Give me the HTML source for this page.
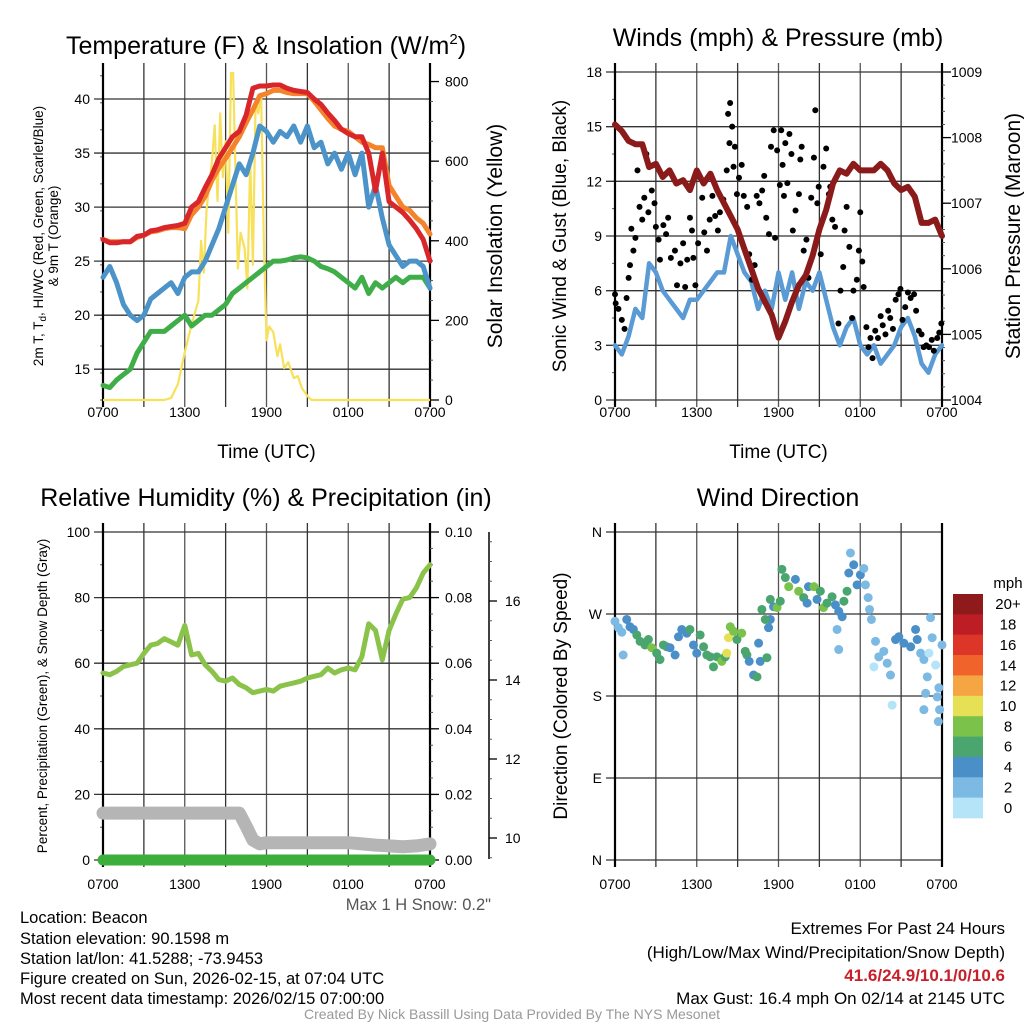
<!DOCTYPE html>
<html><head><meta charset="utf-8"><style>
body{margin:0;background:#fff}
svg{display:block;font-family:"Liberation Sans",Arial,sans-serif}
</style></head><body>
<svg id="s" width="1024" height="1024" viewBox="0 0 1024 1024" xmlns="http://www.w3.org/2000/svg">
<defs><clipPath id="c1"><rect x="103" y="72" width="327" height="330"/></clipPath></defs>
<rect width="1024" height="1024" fill="#fff"/>
<text x="266" y="54" font-size="25" text-anchor="middle">Temperature (F) &amp; Insolation (W/m<tspan dy="-10" font-size="15">2</tspan><tspan dy="10">)</tspan></text>
<text x="778" y="46" font-size="25" text-anchor="middle">Winds (mph) &amp; Pressure (mb)</text>
<text x="266" y="506" font-size="25" text-anchor="middle">Relative Humidity (%) &amp; Precipitation (in)</text>
<text x="778" y="506" font-size="25" text-anchor="middle">Wind Direction</text>
<g id="g"></g>
<text x="491" y="910" font-size="16.5" fill="#555" text-anchor="end">Max 1 H Snow: 0.2"</text>
<g font-size="16.5">
<text x="20" y="923">Location: Beacon</text>
<text x="20" y="944">Station elevation: 90.1598 m</text>
<text x="20" y="964">Station lat/lon: 41.5288; -73.9453</text>
<text x="20" y="984">Figure created on Sun, 2026-02-15, at 07:04 UTC</text>
<text x="20" y="1004">Most recent data timestamp: 2026/02/15 07:00:00</text>
</g>
<g font-size="17" text-anchor="end">
<text x="1005" y="934">Extremes For Past 24 Hours</text>
<text x="1005" y="958">(High/Low/Max Wind/Precipitation/Snow Depth)</text>
<text x="1005" y="981" fill="#c8202a" font-weight="bold">41.6/24.9/10.1/0/10.6</text>
<text x="1005" y="1004">Max Gust: 16.4 mph On 02/14 at 2145 UTC</text>
</g>
<text x="512" y="1019" font-size="14" fill="#999" text-anchor="middle">Created By Nick Bassill Using Data Provided By The NYS Mesonet</text>
</svg>
<script>
const hrs=[0,0.5,1,1.5,2,2.5,3,3.5,4,4.5,5,5.5,6,6.5,7,7.5,8,8.5,9,9.5,10,10.5,11,11.5,12,12.5,13,13.5,14,14.5,15,15.5,16,16.5,17,17.5,18,18.5,19,19.5,20,20.5,21,21.5,22,22.5,23,23.5,24];
const tempRed=[27,26.7,26.7,26.8,26.8,27.3,27.4,27.8,27.9,28.1,28.2,28.3,28.5,30,30.5,31.8,33,34.5,35.5,36.5,37,38.5,41,41.2,41.2,41.3,41.3,41,40.8,40.7,40.6,40,39.5,38.7,38,37.2,36.8,36.5,36.5,35,31.5,35,30.5,30,29.5,28.8,28,27,25];
const tempOrange=[27,26.8,26.8,26.8,26.8,27.2,27.4,27.7,27.8,28,28.1,28.1,28,29.3,30,31,32.5,33.6,34.5,35.5,36.5,37.8,39,40.3,40.5,40.8,40.8,40.6,40.5,40.5,40.5,39.8,39,38.2,37.5,37.2,37,36.5,36,35.8,35.5,35.5,32,31,30,29.7,29,28.5,27.5];
const tempBlue=[23.5,24.5,23,21,20,19.5,20,21.5,22,22.5,23,22,23.5,24,24,25,26.5,28,30,32,34,33,35,37.5,37,36,37,36.5,37.5,36,37.5,35.5,36,34,35,33.5,35,33,35,30,32,29,26.5,25.5,24.5,25,25,24.5,22.5];
const tempGreen=[13.5,13.3,14,14.5,15,16.5,17.5,18.5,18.5,18.5,19,19.5,20,19,19.5,20,20,20.5,21,22,22.5,23,23.5,24,24.5,25,25,25.1,25.3,25.4,25.3,25,24.5,24.3,24,23.5,23,22.5,23.5,22,23,22.5,23,23.5,23,23.5,23.5,23.5,22.5];
const solarHrs=[0,4.5,5,5.5,6,6.5,7,7.2,7.4,7.6,8,8.2,8.4,8.6,8.8,9,9.2,9.4,9.5,9.7,9.9,10.1,10.4,10.6,10.8,11,11.2,11.4,11.6,11.8,12,12.2,12.5,12.8,13,13.3,13.6,14,14.3,14.6,15,15.3,15.6,24];
const solarVals=[0,0,5,40,120,190,250,400,320,480,600,690,500,720,560,650,420,830,900,600,330,420,380,280,600,340,750,720,770,400,150,185,170,110,140,80,95,55,60,30,10,0,0,0];
const presVals=[1008.2,1008.1,1007.95,1007.9,1007.9,1007.55,1007.6,1007.4,1007.5,1007.3,1007.35,1007.2,1007.5,1007.3,1007.45,1007.2,1007.0,1006.8,1006.6,1006.3,1006.0,1005.7,1005.5,1005.3,1004.95,1005.2,1005.5,1005.75,1005.9,1006.2,1006.6,1006.9,1007.3,1007.5,1007.45,1007.6,1007.5,1007.5,1007.5,1007.6,1007.5,1007.3,1007.2,1007.25,1007.1,1006.7,1006.7,1006.75,1006.5];
const windVals=[3,2.5,3.5,5,4.5,7.5,7,6,5.5,5,4.5,5.5,5.5,6,6.5,7,7,9,8,7,6.5,5,6,5,7,5.5,7,5,6.5,6,7,5.5,4,3,4,4.5,3,2.5,3,2,2.5,3,4,4.5,3.5,2,1.5,2.5,3];
const gustHrs=[0,0.05,0.25,0.5,0.7,0.85,1.0,1.1,1.2,1.35,1.5,1.65,1.8,2.0,2.15,2.3,2.45,2.7,2.9,3.0,3.2,3.3,3.55,3.75,3.9,4.1,4.4,4.55,4.8,5.0,5.15,5.3,5.5,5.65,5.75,5.9,6.1,6.25,6.4,6.55,6.75,6.95,7.15,7.35,7.55,7.7,7.95,8.2,8.3,8.45,8.4,8.6,8.7,8.8,8.95,9.1,9.3,9.45,9.7,9.85,10.05,10.25,10.4,10.6,10.8,10.95,11.1,11.3,11.45,11.65,11.75,11.9,12.1,12.2,12.3,12.4,12.5,12.65,12.8,12.95,13.05,13.25,13.5,13.6,13.7,13.85,14.05,14.2,14.4,14.6,14.7,14.85,14.95,15.1,15.3,15.5,15.7,15.8,15.95,16.15,16.4,16.55,16.75,16.85,17.0,17.2,17.4,17.5,17.75,17.9,18.0,18.15,18.25,18.45,18.6,18.75,18.9,19.1,19.3,19.5,19.65,19.85,20.05,20.2,20.4,20.6,20.8,20.95,21.1,21.3,21.5,21.7,21.95,22.1,22.3,22.5,22.65,22.85,23.05,23.25,23.4,23.65,23.8,23.95];
const gustVals=[5.8,5.3,5,4.4,3.9,5.6,6.7,7.4,9.4,8.2,8.9,12.6,10.6,9.9,11.1,13.5,10.3,11.5,10.8,9.5,8.8,7.7,9.6,9.1,10.0,7.8,8.2,6.3,7.5,8.6,6.2,7.7,10.0,9.3,7.8,6.3,8.6,12.2,11.1,9.2,8.2,9.9,11.2,10.1,9.3,10.3,11.0,12.6,15.7,16.3,14.1,15.0,12.8,13.9,11.3,12.2,12.9,11.2,10.6,8.0,6.6,7.4,11.2,10.8,11.5,12.3,10.0,9.1,13.9,14.8,8.9,13.7,11.8,14.8,12.9,11.2,14.1,11.9,14.6,13.5,9.3,10.4,11.3,13.2,13.9,8.2,8.8,6.7,11.1,13.3,15.9,10.8,11.7,8.0,12.8,13.8,11.3,11.7,9.9,9.5,4.2,6.0,7.3,9.3,10.6,8.4,4.5,6.0,6.6,8.2,10.3,7.6,6.2,4.0,2.9,3.4,2.3,3.8,3.4,4.6,4.1,3.6,4.9,4.5,3.9,5.5,5.8,6.1,4.4,5.1,5.9,5.6,5.8,4.9,3.8,3.6,2.9,3.0,2.9,3.3,2.7,3.4,3.7,4.2];
const rhVals=[57,56.5,57.5,59,59.5,60,63,65.5,66,67.5,66.5,65.5,71.5,62.5,63,59.5,57.5,55,54.5,55.5,53.5,52.5,51,51.5,52,51.5,53,53.5,54,54.5,55.5,56,56.5,58.5,57,58,58.5,58,62,72,70,61,70,75,79.5,80,83,87.5,90];
const snowHrs=[0,10,10.5,11,11.5,12,18,19,20,21,22,23,24];
const snowVals=[10.63,10.63,10.3,9.95,9.85,9.88,9.88,9.85,9.82,9.8,9.78,9.8,9.85];
const precipVals=[0,0];
const precipHrs=[0,24];
const dirHrs=[0,0.25,0.5,0.6,0.86,1.1,1.35,1.6,1.84,2.2,2.45,2.7,3.06,3.3,3.55,3.8,4.04,4.41,4.66,4.9,5.27,5.5,5.76,6.0,6.25,6.5,6.74,6.99,7.23,7.48,7.84,8.09,8.2,8.33,8.46,8.7,8.95,9.3,9.56,9.68,9.85,10.17,10.42,10.54,10.66,11.15,11.27,11.4,10.78,11.03,11.4,11.64,11.89,12.13,12.25,12.5,12.75,13.24,13.48,13.85,14.1,14.2,14.6,14.83,15.07,15.3,15.56,15.93,16.18,16.42,16.67,16.3,16.42,16.8,17.03,17.16,17.28,17.52,17.77,18.01,18.26,18.38,18.58,18.68,18.82,19.12,19.0,19.36,19.73,19.98,20.22,20.34,20.59,20.83,21.2,21.7,22.06,22.18,22.43,22.67,23.04,23.16,23.28,23.53,22.92,22.8,22.67,23.77,23.65,23.82,23.73,24];
const dirVals=[262,255,250,225,264,256,253,247,240,236,242,233,227,220,236,234,233,225,245,253,249,253,236,227,247,234,225,223,212,223,218,223,227,244,256,251,242,249,229,225,218,203,201,238,218,222,255,264,275,264,286,278,277,284,319,310,300,308,295,288,282,300,300,286,295,277,282,289,280,273,267,253,231,284,295,315,337,324,302,313,320,302,288,275,264,240,212,223,229,216,203,170,242,245,238,234,253,242,227,220,227,266,244,214,201,183,165,189,179,165,152,236];
const dirSpeeds=[3,3,3,3,4.5,4.5,4.5,6,6,7,6,8,6,6,6,6,5,4.5,4.5,4.5,4.5,6,4.5,4.5,6,6,6,7,6,7,8,7,10,10,8,8,6,8,6,7,4.5,4.5,6,4.5,4.5,6,4.5,4.5,6,6,6,4.5,8,6,6,6,8,4.5,8,6,4.5,4.5,8,4.5,6,8,6,6,4.5,4.5,4.5,3,3,6,6,4.5,3,4.5,4.5,4.5,3,3,3,3,3,3,1.5,3,3,3,3,1.5,4.5,4.5,4.5,4.5,4.5,4.5,3,3,1.5,3,3,1.5,3,3,3,3,3,3,3,3];
const legendLabels=["20+","18","16","14","12","10","8","6","4","2","0"];
const legendColors=["#8e1a1c","#bd1e25","#dd3527","#f0632a","#f6a543","#e6e055","#7bc24a","#4aa56e","#4a8fc8","#7cb9e3","#b5e3f7"];
const timeLabels=["0700","1300","1900","0100","0700"];

const NS="http://www.w3.org/2000/svg";
const G=document.getElementById('g');
function mk(tag,at,par){const e=document.createElementNS(NS,tag);for(const k in at)e.setAttribute(k,at[k]);(par||G).appendChild(e);return e;}
function txt(x,y,s,at,par){const e=mk('text',Object.assign({x:x,y:y},at),par);e.textContent=s;return e;}
const X0=103,X1=430,X2=615,X3=942;
function panel(px,py,name){
  const g=mk('g',{});
  
  
  return {g:g,x0:px,x1:px+327,y0:py,y1:py+328,sx:h=>px+h/24*327};
}
function frame(P,ymin,ymax,step,minor,fmt,showTime){
  const g=P.g, sy=v=>P.y1-(v-ymin)/(ymax-ymin)*(P.y1-P.y0);
  for(let h=0;h<=24;h+=3){const x=P.sx(h);const l=mk('line',{x1:x,x2:x,y1:P.y0-9,y2:P.y1+7,stroke:(h/3)%2?'#333':'#555','stroke-width':1.3},g);}
  for(let v=ymin;v<=ymax+1e-9;v+=minor){const y=sy(v);mk('line',{x1:P.x0-3,x2:P.x0,y1:y,y2:y,stroke:'#555','stroke-width':1},g);}
  let first=Math.ceil(ymin/step-1e-9)*step;
  for(let v=first;v<=ymax+1e-9;v+=step){const y=sy(v);const l=mk('line',{x1:P.x0-9,x2:P.x1,y1:y,y2:y,stroke:'#333','stroke-width':1.3},g);
    const t=txt(P.x0-13,y+5,fmt(v),{'font-size':14,'text-anchor':'end'},g);}
  mk('line',{x1:P.x0,x2:P.x0,y1:P.y0-9,y2:P.y1+7,stroke:'#000','stroke-width':2.2},g);
  mk('line',{x1:P.x1,x2:P.x1,y1:P.y0-9,y2:P.y1+7,stroke:'#000','stroke-width':2.2},g);
  for(let i=0;i<timeLabels.length;i++){const t=txt(P.sx(i*6),P.y1+(showTime?17:29),timeLabels[i],{'font-size':14,'text-anchor':'middle'},g);}
  if(showTime){const t=txt((P.x0+P.x1)/2,P.y1+58,'Time (UTC)',{'font-size':19,'text-anchor':'middle'},g);}
  return sy;
}
function raxis(P,x,ymin,ymax,step,minor,fmt,par,dx,vmax){
  const sy=v=>P.y1-(v-ymin)/(ymax-ymin)*(P.y1-P.y0);
  const top=vmax===undefined?ymax:vmax;
  for(let v=ymin;v<=ymax+1e-9;v+=minor){const y=sy(v);mk('line',{x1:x,x2:x+3,y1:y,y2:y,stroke:'#555','stroke-width':1},par);}
  for(let v=ymin;v<=top+1e-9;v+=step){const y=sy(v);mk('line',{x1:x,x2:x+9,y1:y,y2:y,stroke:'#000','stroke-width':1.3},par);
    const t=txt(x+(dx||15),y+5,fmt(v),{'font-size':14},par);}
  return sy;
}
function line(P,xs,ys,sy,color,w,name,clip){
  let d='';for(let i=0;i<xs.length;i++)d+=(i?'L':'M')+P.sx(xs[i]).toFixed(1)+','+sy(ys[i]).toFixed(1);
  const at={d:d,fill:'none',stroke:color,'stroke-width':w,'stroke-linejoin':'round','stroke-linecap':'round'};
  if(clip)at['clip-path']='url(#'+clip+')';
  const p=mk('path',at,P.g);
  
  
  return p;
}
function vtitle(x,y,s,size,par,name){const t=txt(x,y,s,{'font-size':size,'text-anchor':'middle',transform:'rotate(-90 '+x+' '+y+')'},par);return t;}

// Panel 1 temperature
const P1=panel(X0,72,'temperature-panel');
const sy1=frame(P1,12.15,42.5,5,2.5,v=>String(v),true);
const sr1=raxis(P1,X1,0,824,200,50,v=>String(v),P1.g,15,800);
line(P1,solarHrs,solarVals,sr1,'#f7e15a',2.2,'solar-insolation-line','c1');
line(P1,hrs,tempGreen,sy1,'#3fae49',5,'dewpoint-line');
line(P1,hrs,tempBlue,sy1,'#4b93c8',5,'windchill-line');
line(P1,hrs,tempOrange,sy1,'#f4832b',5,'temperature-9m-line');
line(P1,hrs,tempRed,sy1,'#d9262a',5,'temperature-2m-line');
{const t=mk('text',{x:43,y:236,'font-size':13.5,'text-anchor':'middle',transform:'rotate(-90 43 236)'},P1.g);
 t.innerHTML='2m T, T<tspan font-size="10" dy="3">d</tspan><tspan dy="-3">, HI/WC (Red, Green, Scarlet/Blue)</tspan>';
 const t2=txt(58,236,'& 9m T (Orange)',{'font-size':13.5,'text-anchor':'middle',transform:'rotate(-90 58 236)'},P1.g);}
vtitle(502,236,'Solar Insolation (Yellow)',21,P1.g,'solar-y-axis-title');

// Panel 2 winds
const P2=panel(X2,72,'winds-panel');
const sy2=frame(P2,0,18,3,1.5,v=>String(v),true);
const sr2=raxis(P2,X3,1004,1009,1,0.2,v=>String(v),P2.g,9);
line(P2,hrs,windVals,sy2,'#5b9bd5',4.5,'sonic-wind-line');
for(let i=0;i<gustHrs.length;i++){const c=mk('circle',{cx:P2.sx(gustHrs[i]),cy:sy2(gustVals[i]),r:3,fill:'#000'},P2.g);}
line(P2,hrs,presVals,sr2,'#8b1a1a',6,'pressure-line');
vtitle(566,236,'Sonic Wind & Gust (Blue, Black)',19,P2.g,'wind-y-axis-title');
vtitle(1020,236,'Station Pressure (Maroon)',21,P2.g,'pressure-y-axis-title');

// Panel 3 humidity
const P3=panel(X0,532,'humidity-panel');
const sy3=frame(P3,0,100,20,10,v=>String(v),false);
const sr3=raxis(P3,X1,0,0.1,0.02,0.005,v=>v.toFixed(2),P3.g);
const ssn=v=>838-(v-10)/6*237;
{const ax=mk('g',{},P3.g);
 mk('line',{x1:489,x2:489,y1:532,y2:859,stroke:'#000','stroke-width':1.5},ax);
 for(let v=9.5;v<=17.7;v+=0.5){const y=ssn(v);if(y<532||y>859)continue;mk('line',{x1:489,x2:492,y1:y,y2:y,stroke:'#555'},ax);}
 for(let v=10;v<=16;v+=2){const y=ssn(v);mk('line',{x1:489,x2:497,y1:y,y2:y,stroke:'#000','stroke-width':1.3},ax);const t=txt(505,y+5,String(v),{'font-size':14},ax);}}
line(P3,snowHrs,snowVals,ssn,'#b5b5b5',13,'snow-depth-line');
line(P3,precipHrs,precipVals,sr3,'#3cae3c',11,'precipitation-line');
line(P3,hrs,rhVals,sy3,'#8bc34a',5,'relative-humidity-line');
vtitle(47,696,'Percent, Precipitation (Green), & Snow Depth (Gray)',13.5,P3.g,'humidity-y-axis-title');

// Panel 4 direction
const P4=panel(X2,532,'direction-panel');
const sy4=frame(P4,0,360,90,90,v=>['N','E','S','W','N'][v/90],false);
vtitle(567,696,'Direction (Colored By Speed)',19,P4.g,'direction-y-axis-title');
function spColor(s){const i=Math.min(10,Math.floor(s/2));return legendColors[10-i];}
for(let i=0;i<dirHrs.length;i++){const c=mk('circle',{cx:P4.sx(dirHrs[i]),cy:sy4(dirVals[i]),r:4.5,fill:spColor(dirSpeeds[i])},P4.g);}
{const lg=mk('g',{});
 const h=224/legendLabels.length;
 txt(1008,588,'mph',{'font-size':15,'text-anchor':'middle'},lg);
 for(let i=0;i<legendLabels.length;i++){const r=mk('rect',{x:953,y:594+i*h,width:30,height:h+0.3,fill:legendColors[i]},lg);
  const t=txt(1008,594+i*h+h/2+5,legendLabels[i],{'font-size':15,'text-anchor':'middle'},lg);}}
</script>
</body></html>
